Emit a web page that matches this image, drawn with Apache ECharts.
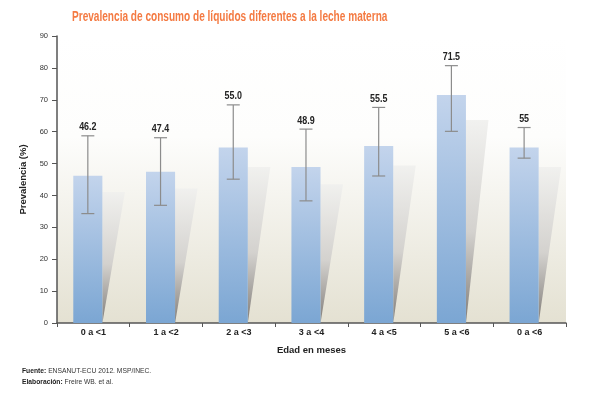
<!DOCTYPE html>
<html>
<head>
<meta charset="utf-8">
<script src="https://cdn.jsdelivr.net/npm/echarts@6/dist/echarts.min.js"></script>
<style>html,body{margin:0;padding:0;background:#fff}#c{width:595px;height:396px}</style>
</head>
<body>
<div id="c"></div>
<script>
const categories = ['0 a <1', '1 a <2', '2 a <3', '3 a <4', '4 a <5', '5 a <6', '0 a <6'];
const values = [46.2, 47.4, 55.0, 48.9, 55.5, 71.5, 55];
const valueLabels = ['46.2', '47.4', '55.0', '48.9', '55.5', '71.5', '55'];
const lower = [34.3, 36.9, 45.1, 38.3, 46.1, 60.1, 51.7];
const upper = [58.7, 58.1, 68.4, 60.8, 67.6, 80.7, 61.3];
const yTicks = [0, 10, 20, 30, 40, 50, 60, 70, 80, 90];

const FONT = '"Liberation Sans", Arial, sans-serif';
const chart = echarts.init(document.getElementById('c'));
const data = categories.map((c, i) => [i, values[i], lower[i], upper[i]]);

chart.setOption({
  animation: false,
  grid: {
    left: 57, right: 29, top: 36, bottom: 73,
    show: true, borderWidth: 0,
    backgroundColor: new echarts.graphic.LinearGradient(0, 0, 0, 1, [
      { offset: 0, color: '#ffffff' },
      { offset: 0.35, color: '#fdfdfc' },
      { offset: 1, color: '#e4e1d2' }
    ])
  },
  xAxis: {
    type: 'category', data: categories,
    name: 'Edad en meses', nameLocation: 'middle', nameGap: 22,
    nameTextStyle: { fontFamily: FONT, fontWeight: 'bold', fontSize: 9.5, color: '#222' },
    axisLine: { lineStyle: { color: '#555', width: 1.5 } },
    axisTick: { show: true, length: 4, lineStyle: { color: '#555' } },
    axisLabel: { fontFamily: FONT, fontWeight: 'bold', fontSize: 9, color: '#222', margin: 5 }
  },
  yAxis: {
    type: 'value', min: 0, max: 90, interval: 10,
    name: 'Prevalencia (%)', nameLocation: 'middle', nameRotate: 90, nameGap: 27,
    nameTextStyle: { fontFamily: FONT, fontWeight: 'bold', fontSize: 9.5, color: '#222' },
    axisLine: { show: true, lineStyle: { color: '#555', width: 1.5 } },
    axisTick: { show: true, length: 5, lineStyle: { color: '#555' } },
    splitLine: { show: false },
    axisLabel: {
      fontFamily: FONT, fontSize: 7.5, color: '#333', margin: 9,
      formatter: v => yTicks.includes(v) ? String(v) : ''
    }
  },
  series: [{
    type: 'custom',
    data: data,
    encode: { x: 0, y: [1, 2, 3] },
    renderItem: function (params, api) {
      const i = api.value(0), v = api.value(1), lo = api.value(2), hi = api.value(3);
      const band = api.size([1, 0])[0];
      const top = api.coord([i, v]);
      const base = api.coord([i, 0]);
      const barW = band * 0.4;
      const cx = top[0] - band * 0.076;
      const left = cx - barW / 2, right = cx + barW / 2;
      const sTop = api.coord([i, v * 0.89])[1];
      const hiY = api.coord([i, hi])[1], loY = api.coord([i, lo])[1];
      const cap = 6.5;
      return {
        type: 'group',
        children: [
          {
            type: 'polygon',
            shape: { points: [[right, sTop], [right + band * 0.31, sTop], [right, base[1]]] },
            style: {
              fill: new echarts.graphic.LinearGradient(0, 0, 0, 1, [
                { offset: 0, color: 'rgba(240,240,238,0.9)' },
                { offset: 0.55, color: 'rgba(210,208,205,0.95)' },
                { offset: 1, color: 'rgba(128,124,120,1)' }
              ])
            }
          },
          {
            type: 'rect',
            shape: { x: left, y: top[1], width: barW, height: base[1] - top[1] },
            style: {
              fill: new echarts.graphic.LinearGradient(0, 0, 0, 1, [
                { offset: 0, color: '#c3d4ec' },
                { offset: 1, color: '#7ba6d3' }
              ])
            }
          },
          { type: 'line', shape: { x1: cx, y1: hiY, x2: cx, y2: loY }, style: { stroke: '#8c8c8c', lineWidth: 1.2 } },
          { type: 'line', shape: { x1: cx - cap, y1: hiY, x2: cx + cap, y2: hiY }, style: { stroke: '#8c8c8c', lineWidth: 1.2 } },
          { type: 'line', shape: { x1: cx - cap, y1: loY, x2: cx + cap, y2: loY }, style: { stroke: '#8c8c8c', lineWidth: 1.2 } },
          {
            type: 'text',
            scaleX: 0.85,
            x: cx, y: hiY - 3,
            style: {
              text: valueLabels[params.dataIndex], x: 0, y: 0,
              align: 'center', verticalAlign: 'bottom',
              fontFamily: FONT, fontWeight: 'bold', fontSize: 10.5, fill: '#222'
            }
          }
        ]
      };
    }
  }],
  graphic: [
    {
      type: 'text', x: 72, y: 17, scaleX: 0.72,
      style: {
        text: 'Prevalencia de consumo de líquidos diferentes a la leche materna',
        x: 0, y: 0, verticalAlign: 'middle',
        fontFamily: FONT, fontWeight: 'bold', fontSize: 14, fill: '#f47a42'
      }
    },
    {
      type: 'text', x: 22, y: 371, scaleX: 0.84,
      style: {
        text: '{b|Fuente:} ENSANUT-ECU 2012. MSP/INEC.',
        x: 0, y: 0, verticalAlign: 'middle',
        rich: { b: { fontWeight: 'bold', fontFamily: FONT, fontSize: 8, fill: '#222' } },
        fontFamily: FONT, fontSize: 8, fill: '#333'
      }
    },
    {
      type: 'text', x: 22, y: 382, scaleX: 0.84,
      style: {
        text: '{b|Elaboración:} Freire WB. et al.',
        x: 0, y: 0, verticalAlign: 'middle',
        rich: { b: { fontWeight: 'bold', fontFamily: FONT, fontSize: 8, fill: '#222' } },
        fontFamily: FONT, fontSize: 8, fill: '#333'
      }
    }
  ]
});
</script>
</body>
</html>
